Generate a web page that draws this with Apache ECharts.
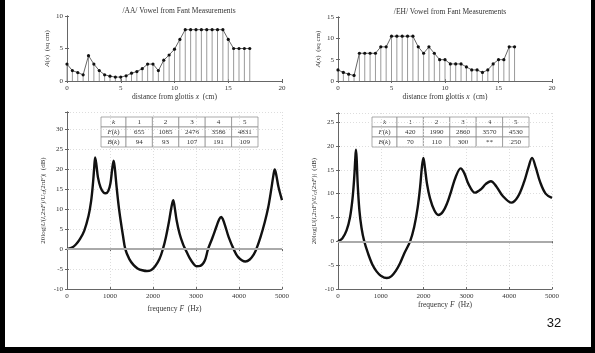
<!DOCTYPE html>
<html>
<head>
<meta charset="utf-8">
<script src="https://cdn.jsdelivr.net/npm/echarts@6/dist/echarts.min.js"></script>
<style>
  html, body { margin: 0; padding: 0; background: #fff; }
  #main { width: 595px; height: 353px; }
</style>
</head>
<body>
<div id="main"></div>
<script>
// area functions (distance from glottis in cm, area in sq cm)
const aaPos = [0, 0.5, 1, 1.5, 2, 2.5, 3, 3.5, 4, 4.5, 5, 5.5, 6, 6.5, 7, 7.5, 8, 8.5, 9, 9.5, 10, 10.5, 11, 11.5, 12, 12.5, 13, 13.5, 14, 14.5, 15, 15.5, 16, 16.5, 17]
const aaArea = [2.6, 1.6, 1.3, 0.95, 3.9, 2.6, 1.6, 0.95, 0.75, 0.6, 0.6, 0.8, 1.2, 1.45, 1.9, 2.6, 2.6, 1.6, 3.2, 4.0, 4.9, 6.4, 7.9, 7.9, 7.9, 7.9, 7.9, 7.9, 7.9, 7.9, 6.4, 5.0, 5.0, 5.0, 5.0]
const ehPos = [0, 0.5, 1, 1.5, 2, 2.5, 3, 3.5, 4, 4.5, 5, 5.5, 6, 6.5, 7, 7.5, 8, 8.5, 9, 9.5, 10, 10.5, 11, 11.5, 12, 12.5, 13, 13.5, 14, 14.5, 15, 15.5, 16, 16.5]
const ehArea = [2.6, 2.0, 1.6, 1.3, 6.5, 6.5, 6.5, 6.5, 8.0, 8.0, 10.5, 10.5, 10.5, 10.5, 10.5, 8.0, 6.5, 8.0, 6.5, 5.0, 5.0, 4.0, 4.0, 4.0, 3.3, 2.6, 2.6, 2.0, 2.6, 4.0, 5.0, 5.0, 8.0, 8.0]

// frequency responses (Hz, dB)
const aaFreq = [0, 100, 200, 300, 400, 500, 560, 600, 630, 655, 680, 720, 780, 850, 900, 960, 1010, 1050, 1085, 1110, 1150, 1200, 1250, 1300, 1356, 1450, 1550, 1650, 1750, 1860, 1950, 2050, 2150, 2230, 2300, 2370, 2420, 2470, 2500, 2550, 2620, 2700, 2760, 2850, 2950, 3007, 3100, 3200, 3280, 3380, 3480, 3540, 3586, 3620, 3680, 3760, 3876, 3980, 4147, 4250, 4350, 4403, 4500, 4600, 4680, 4750, 4800, 4831, 4860, 4920, 5000]
const aaDb = [0, 0.3, 1.1, 2.5, 4.6, 8.3, 12, 16, 20, 23, 21.5, 18, 15.5, 14.2, 14, 14.6, 16.5, 20, 22.2, 20.5, 16, 11, 7, 3.5, 0, -2.5, -4, -4.9, -5.3, -5.5, -5.3, -4.3, -2.5, 0, 3, 6.8, 10, 12.3, 10.8, 7.2, 3.8, 1.2, -0.2, -2.2, -3.8, -4.3, -4.2, -3, 0, 2.8, 5.8, 7.5, 8.1, 7.6, 5.8, 3, 0, -2, -3.1, -2.6, -1.2, 0, 3, 6.8, 10.5, 15, 18.5, 20, 19, 15.5, 12.3]
const ehFreq = [0, 100, 200, 280, 340, 380, 405, 420, 435, 460, 500, 550, 613, 700, 800, 900, 1000, 1141, 1250, 1350, 1450, 1550, 1685, 1780, 1860, 1920, 1960, 1995, 2030, 2080, 2150, 2250, 2345, 2450, 2550, 2650, 2750, 2865, 2950, 3050, 3200, 3350, 3450, 3571, 3700, 3850, 4053, 4200, 4350, 4450, 4534, 4620, 4720, 4850, 5000]
const ehDb = [0, 0.6, 2.3, 5, 9, 13.5, 17.5, 19.2, 17.5, 12, 6.5, 2.8, 0, -2.5, -4.8, -6.3, -7.2, -7.7, -7.3, -6.2, -4.6, -2.5, 0, 3, 7, 11.5, 15.5, 17.5, 15.5, 12, 9, 6.5, 5.5, 6.2, 8, 10.7, 13.5, 15.3, 14.3, 12, 10.2, 11, 12, 12.6, 11.5, 9.5, 8.1, 9.3, 12.5, 15.5, 17.5, 15.5, 12.5, 10, 9.1]

// formant tables
const tableK = ['1', '2', '3', '4', '5']
const aaF = ['655', '1085', '2476', '3586', '4831']
const aaB = ['94', '93', '107', '191', '109']
const ehF = ['420', '1990', '2860', '3570', '4530']
const ehB = ['70', '110', '300', '**', '250']

const serif = 'Liberation Serif'
const txt = {fontFamily: serif, fontSize: 7, color: '#333'}

const grids = [
  {left: 67, top: 16, width: 215, height: 65},
  {left: 338, top: 17, width: 214, height: 64},
  {left: 67, top: 112, width: 215, height: 177},
  {left: 338, top: 113, width: 214, height: 176}
]

function xAxes(i, max, interval, name, grid) {
  return [{
    type: 'value', gridIndex: i, min: 0, max: max, interval: interval,
    name: name, nameLocation: 'middle', nameGap: 10,
    nameTextStyle: {fontFamily: serif, fontSize: 7.5, color: '#333', rich: {i: {fontFamily: serif, fontStyle: 'italic', fontSize: 7.5, color: '#333'}}},
    axisLine: {onZero: false, lineStyle: {color: '#666', width: 1}},
    axisTick: {inside: true, length: 2, lineStyle: {color: '#666'}},
    axisLabel: Object.assign({margin: 4, formatter: v => String(v)}, txt),
    splitLine: {show: grid, lineStyle: {color: '#ddd', type: [1, 2]}}
  }, {
    type: 'value', gridIndex: i, min: 0, max: max, interval: interval, position: 'top',
    axisLine: {lineStyle: {color: '#666', width: 1}},
    axisTick: {inside: true, length: 2, lineStyle: {color: '#666'}},
    axisLabel: {show: false}, splitLine: {show: false}
  }]
}

function yAxes(i, min, max, interval, name, gap, grid) {
  return [{
    type: 'value', gridIndex: i, min: min, max: max, interval: interval,
    name: name, nameLocation: 'middle', nameGap: gap, nameRotate: 90,
    nameTextStyle: {fontFamily: serif, fontSize: 7, color: '#333',
      rich: {i: {fontFamily: serif, fontStyle: 'italic', fontSize: 7, color: '#333'},
             s: {fontFamily: serif, fontStyle: 'italic', fontSize: 5, color: '#333', verticalAlign: 'bottom'}}},
    axisLine: {lineStyle: {color: '#666', width: 1}},
    axisTick: {inside: true, length: 2, lineStyle: {color: '#666'}},
    axisLabel: Object.assign({margin: 4, formatter: v => (v % interval === 0 ? String(v) : '')}, txt),
    splitLine: {show: grid, lineStyle: {color: '#ddd', type: [1, 2]}}
  }, {
    type: 'value', gridIndex: i, min: min, max: max, interval: interval, position: 'right',
    axisLine: {lineStyle: {color: '#666', width: 1}},
    axisTick: {inside: true, length: 2, lineStyle: {color: '#666'}},
    axisLabel: {show: false}, splitLine: {show: false}
  }]
}

function zip(a, b) { return a.map((v, k) => [v, b[k]]) }

function stems(ax, pos, area) {
  return [{
    type: 'bar', xAxisIndex: ax, yAxisIndex: ax, data: zip(pos, area),
    barWidth: 1, itemStyle: {color: '#9a9a9a'}, silent: true
  }, {
    type: 'line', xAxisIndex: ax, yAxisIndex: ax, data: zip(pos, area),
    symbol: 'circle', symbolSize: 3.2, lineStyle: {color: '#555', width: 0.9},
    itemStyle: {color: '#111'}, z: 3
  }]
}

function response(ax, freq, db) {
  return {
    type: 'line', xAxisIndex: ax, yAxisIndex: ax, data: zip(freq, db),
    smooth: 0.35, symbol: 'none', lineStyle: {color: '#111', width: 2.4}, z: 4,
    markLine: {silent: true, symbol: 'none', label: {show: false},
      lineStyle: {color: '#aaa', width: 2, type: 'solid'}, data: [{yAxis: 0}]}
  }
}

function table(left, top, fRow, bRow) {
  const widths = [25, 26.4, 26.4, 26.4, 26.4, 26.4]
  const rows = [['{i|k}'].concat(tableK), ['{i|F}({i|k})'].concat(fRow), ['{i|B}({i|k})'].concat(bRow)]
  const els = []
  rows.forEach((row, r) => {
    let x = left
    row.forEach((cell, c) => {
      els.push({type: 'rect', shape: {x: x, y: top + r * 10, width: widths[c], height: 10},
        style: {fill: '#fff', stroke: '#888', lineWidth: 0.7}})
      els.push({type: 'text', x: x + widths[c] / 2, y: top + r * 10 + 5,
        style: {text: cell, fontFamily: serif, fontSize: 7, fill: '#333', align: 'center', verticalAlign: 'middle',
          rich: {i: {fontFamily: serif, fontStyle: 'italic', fontSize: 7, fill: '#333'}}}})
      x += widths[c]
    })
  })
  return {type: 'group', z: 50, children: els}
}

const chart = echarts.init(document.getElementById('main'))
chart.setOption({
  animation: false,
  backgroundColor: '#fff',
  title: [
    {text: '/AA/ Vowel from Fant Measurements', left: 174, top: 2, textAlign: 'center',
      textStyle: {fontFamily: serif, fontSize: 7.5, fontWeight: 'normal', color: '#333'}},
    {text: '/EH/ Vowel from Fant Measurements', left: 445, top: 3, textAlign: 'center',
      textStyle: {fontFamily: serif, fontSize: 7.5, fontWeight: 'normal', color: '#333'}}
  ],
  grid: grids,
  xAxis: [].concat(
    xAxes(0, 20, 5, 'distance from glottis {i|x}  (cm)', false),
    xAxes(1, 20, 5, 'distance from glottis {i|x}  (cm)', false),
    xAxes(2, 5000, 1000, 'frequency {i|F}  (Hz)', true),
    xAxes(3, 5000, 1000, 'frequency {i|F}  (Hz)', true)
  ),
  yAxis: [].concat(
    yAxes(0, 0, 10, 5, '{i|A}({i|x})  (sq cm)', 16, false),
    yAxes(1, 0, 15, 5, '{i|A}({i|x})  (sq cm)', 16, false),
    yAxes(2, -10, 34.4, 5, '20log|{i|U}({i|l},2π{i|F})/{i|U}{s|G}(2π{i|F})|  (dB)', 20, true),
    yAxes(3, -10, 26.9, 5, '20log|{i|U}({i|l},2π{i|F})/{i|U}{s|G}(2π{i|F})|  (dB)', 20, true)
  ),
  series: [].concat(
    stems(0, aaPos, aaArea),
    stems(2, ehPos, ehArea),
    [response(4, aaFreq, aaDb), response(6, ehFreq, ehDb)]
  ),
  graphic: [
    table(101, 117, aaF, aaB),
    table(372, 117, ehF, ehB),
    {type: 'rect', shape: {x: 0, y: 0, width: 5, height: 353}, style: {fill: '#000'}},
    {type: 'rect', shape: {x: 591, y: 0, width: 4, height: 353}, style: {fill: '#000'}},
    {type: 'rect', shape: {x: 0, y: 347, width: 595, height: 6}, style: {fill: '#000'}},
    {type: 'text', x: 554, y: 323, style: {text: '32', fontFamily: 'Liberation Sans', fontSize: 13, fill: '#111', align: 'center', verticalAlign: 'middle'}}
  ]
})
</script>
</body>
</html>
